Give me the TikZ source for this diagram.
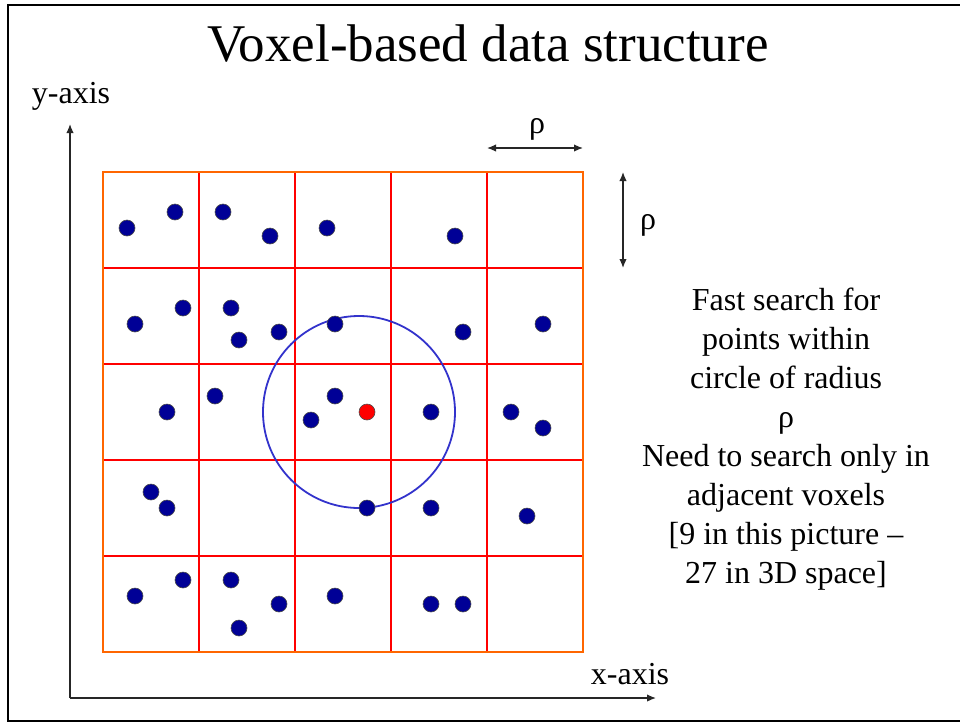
\documentclass[tikz,border=0pt]{standalone}
\usepackage{fontspec}
\setmainfont{Liberation Serif}
\usetikzlibrary{arrows.meta}
\definecolor{gridorange}{RGB}{255,102,0}
\definecolor{gridred}{RGB}{255,0,0}
\definecolor{dotblue}{RGB}{0,0,150}
\definecolor{circblue}{RGB}{51,51,204}
\tikzset{
  dotnode/.style={circle,fill=dotblue,draw=black!70,line width=0.6pt,minimum size=16pt,inner sep=0pt},
  reddot/.style={circle,fill=red,draw=black!70,line width=0.6pt,minimum size=16pt,inner sep=0pt},
  axisline/.style={line width=1.4pt,draw=black!85,-{Latex[length=9pt,width=7.5pt]}},
  dimarrow/.style={line width=1.4pt,draw=black!85,{Latex[length=9pt,width=7.5pt]}-{Latex[length=9pt,width=7.5pt]}},
  lbl/.style={font=\fontsize{32}{38.9}\selectfont,inner sep=0pt}
}
\begin{document}
\begin{tikzpicture}[x=1pt,y=-1pt]
\useasboundingbox (0,0) rectangle (960,723);
\fill[white] (0,0) rectangle (960,723);
\clip (0,0) rectangle (960,723);
% frame
\draw[line width=2.5pt] (8,5) rectangle (975,721);
% title
\node[font=\fontsize{53}{60}\selectfont,inner sep=0pt] (title) at (488,44) {Voxel-based data structure};
% axes
\coordinate (origin) at (70,698);
\coordinate (ytip) at (70,124);
\coordinate (xtip) at (656,698);
\draw[axisline] (origin) -- (ytip);
\draw[axisline] (origin) -- (xtip);
\node[lbl] (ylabel) at (71,96) {y-axis};
\node[lbl] (xlabel) at (630,674) {x-axis};
% grid
\foreach \x in {199,295,391,487} \draw[gridred,line width=2pt] (\x,172) -- (\x,652);
\foreach \y in {268,364,460,556} \draw[gridred,line width=2pt] (103,\y) -- (583,\y);
\draw[gridorange,line width=2pt] (103,172) rectangle (583,652);
% dimension arrows
\coordinate (h1) at (487,148);
\coordinate (h2) at (583,148);
\draw[dimarrow] (h1) -- (h2);
\node[lbl] (rhoh) at (537,129) {ρ};
\coordinate (v1) at (623,172);
\coordinate (v2) at (623,268);
\draw[dimarrow] (v1) -- (v2);
\node[lbl] (rhov) at (648,225) {ρ};
% circle
\draw[circblue,line width=1.8pt] (359,412) circle (96);
% dots
\foreach \x/\y [count=\i] in {127/228,175/212,223/212,270/236,327/228,455/236,
  135/324,183/308,231/308,239/340,279/332,335/324,463/332,543/324,
  167/412,215/396,335/396,311/420,431/412,511/412,543/428,
  151/492,167/508,367/508,431/508,527/516,
  135/596,183/580,231/580,279/604,335/596,431/604,463/604,239/628}
  \node[dotnode] (d\i) at (\x,\y) {};
\node[reddot] (query) at (367,412) {};
% explanatory text
\node[lbl,align=center] (expl) at (786,439) {Fast search for\\points within\\circle of radius\\ρ\\Need to search only in\\adjacent voxels\\{[9} in this picture –\\27 in 3D space]};
\end{tikzpicture}
\end{document}
